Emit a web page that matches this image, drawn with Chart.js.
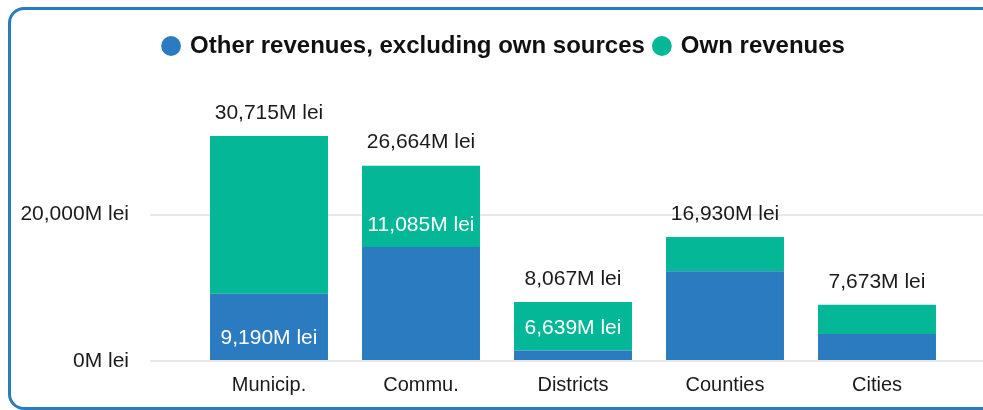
<!DOCTYPE html>
<html>
<head>
<meta charset="utf-8">
<script src="https://cdn.jsdelivr.net/npm/chart.js@4.4.1/dist/chart.umd.min.js"></script>
<style>
    html, body { margin: 0; padding: 0; background: #fff; overflow: hidden; }
    body { width: 983px; height: 410px; position: relative; }
    .card {
        position: absolute; left: 8px; top: 7px; width: 1010px; height: 403px;
        box-sizing: border-box; border: 3px solid #2b7bc0; border-radius: 16px; background: #fff;
    }
    .wrap { position: absolute; left: 0; top: 0; width: 1009px; height: 410px; }
</style>
</head>
<body>
<div class="card"></div>
<div class="wrap"><canvas id="chart"></canvas></div>
<script>
// data
const categories = ['Municip.', 'Commu.', 'Districts', 'Counties', 'Cities'];
const otherRevenues = [9190, 15579, 1428, 12250, 3680];
const ownRevenues = [21525, 11085, 6639, 4680, 3993];
const totals = [30715, 26664, 8067, 16930, 7673];
// which segment values are printed inside the bars
const showOtherLabel = [true, false, false, false, false];
const showOwnLabel = [false, true, true, false, false];
const yTicks = [0, 20000];

const blue = '#2b7bc0';
const green = '#03b797';
const yMax = 40000;

const fmt = v => v.toLocaleString('en-US') + 'M lei';

// value labels drawn from the bar elements
const barLabels = {
    id: 'barLabels',
    afterDatasetsDraw(chart) {
        const ctx = chart.ctx;
        ctx.save();
        ctx.font = '21px "Liberation Sans", Arial, sans-serif';
        ctx.textAlign = 'center';
        ctx.textBaseline = 'middle';
        const flags = [showOtherLabel, showOwnLabel];
        chart.data.datasets.forEach((ds, d) => {
            const meta = chart.getDatasetMeta(d);
            meta.data.forEach((bar, i) => {
                if (!flags[d][i]) return;
                ctx.fillStyle = '#ffffff';
                ctx.fillText(fmt(ds.data[i]), bar.x, bar.base - 22);
            });
        });
        const top = chart.getDatasetMeta(1);
        top.data.forEach((bar, i) => {
            ctx.fillStyle = '#1a1a1a';
            ctx.fillText(fmt(totals[i]), bar.x, bar.y - 23);
        });
        ctx.restore();
    }
};

const onlyTicks = axis => { axis.ticks = yTicks.map(v => ({ value: v })); };

new Chart(document.getElementById('chart'), {
    type: 'bar',
    data: {
        labels: categories,
        datasets: [
            { label: 'Other revenues, excluding own sources', data: otherRevenues, backgroundColor: blue },
            { label: 'Own revenues', data: ownRevenues, backgroundColor: green }
        ]
    },
    options: {
        responsive: true,
        maintainAspectRatio: false,
        animation: false,
        categoryPercentage: 1,
        barPercentage: 0.776,
        layout: { padding: { top: 24, left: 0, right: 0, bottom: 0 } },
        plugins: {
            legend: {
                position: 'top',
                labels: {
                    usePointStyle: true,
                    pointStyle: 'circle',
                    boxWidth: 14,
                    boxHeight: 14,
                    padding: 10,
                    color: '#111',
                    font: { family: '"Liberation Sans", Arial, sans-serif', size: 24, weight: 'bold' }
                }
            },
            tooltip: { enabled: false }
        },
        scales: {
            x: {
                stacked: true,
                grid: { display: false, drawTicks: false },
                border: { display: false },
                ticks: {
                    padding: 12,
                    color: '#1a1a1a',
                    font: { family: '"Liberation Sans", Arial, sans-serif', size: 20 }
                },
                afterFit: s => { s.height = 49; }
            },
            y: {
                stacked: true,
                min: 0,
                max: yMax,
                afterBuildTicks: onlyTicks,
                grid: { color: '#e8e8e8', lineWidth: 2, tickLength: 43 },
                border: { display: false },
                ticks: {
                    padding: 21,
                    color: '#1a1a1a',
                    font: { family: '"Liberation Sans", Arial, sans-serif', size: 21 },
                    callback: v => fmt(v)
                },
                afterFit: s => { s.width = 193; }
            },
            y2: {
                position: 'right',
                min: 0,
                max: yMax,
                afterBuildTicks: onlyTicks,
                grid: { color: '#e8e8e8', lineWidth: 2, drawOnChartArea: false, tickLength: 56 },
                border: { display: false },
                ticks: { display: false },
                afterFit: s => { s.width = 56; }
            }
        }
    },
    plugins: [barLabels]
});
</script>
</body>
</html>
